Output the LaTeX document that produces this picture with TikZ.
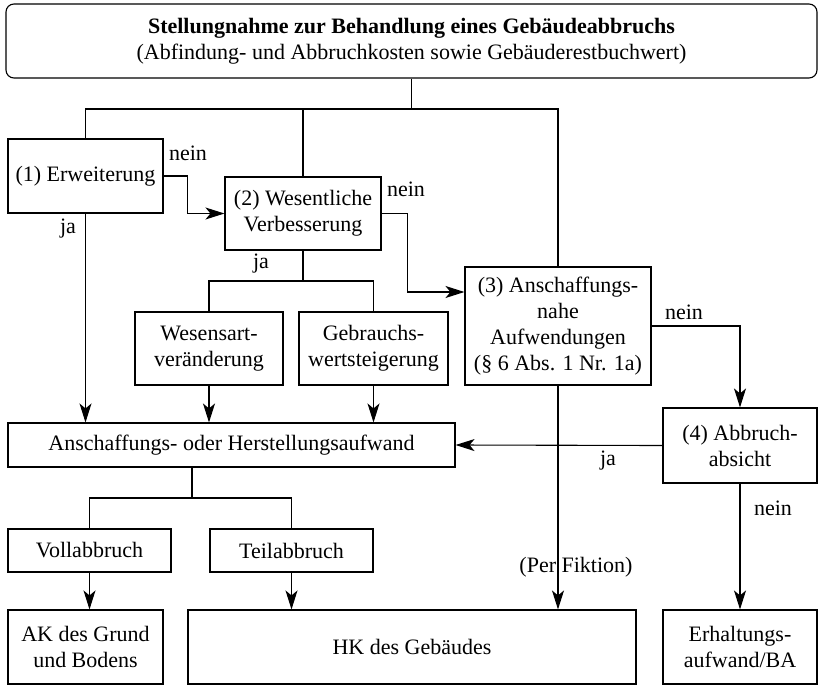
\documentclass[tikz,border=0pt]{standalone}
\usepackage{fontspec}
\setmainfont{Liberation Serif}
\usetikzlibrary{positioning}
\usetikzlibrary{arrows.meta}

\tikzset{
  box/.style={draw, align=center, inner sep=1pt, font=\fontsize{11}{13}\selectfont},
  sz/.style 2 args={minimum width=#1*0.5pt, minimum height=#2*0.5pt},
  lbl/.style={inner sep=0pt, font=\fontsize{11}{13}\selectfont},
  arr/.style={-{Stealth[length=9.5pt,width=6pt,inset=2.5pt]}}
}

\begin{document}
\begin{tikzpicture}[x=0.5pt, y=-0.5pt, line width=0.55pt]
        \useasboundingbox (0,0) rectangle (819,685);
        % Kopf
        \node[box, sz={811}{74}, rounded corners=4pt] (top) at (411.5,41)
            {\textbf{Stellungnahme zur Behandlung eines Gebäudeabbruchs}\\
             (Abfindung- und Abbruchkosten sowie Gebäuderestbuchwert)};
        \coordinate (split) at (411.5,109);

        % Pruefschritte
        \node[box, sz={155}{74}] (erw) at (85.5,176) {(1) Erweiterung};
        \node[box, sz={156}{73}] (wesv) at (303,213.5) {(2) Wesentliche\\Verbesserung};
        \node[box, sz={186}{118}] (anah) at (558,326)
            {(3) Anschaffungs-\\nahe\\Aufwendungen\\(§ 6 Abs. 1 Nr. 1a)};
        \node[box, sz={154}{75}] (abs) at (740,445.5) {(4) Abbruch-\\absicht};

        \node[box, sz={148}{73}] (wesa) at (209,348.5) {Wesensart-\\veränderung};
        \node[box, sz={149}{73}] (gebr) at (373.5,348.5) {Gebrauchs-\\wertsteigerung};
        \coordinate (split2) at (303,281);

        \node[box, sz={447}{44}] (ahk) at (231.5,445) {Anschaffungs- oder Herstellungsaufwand};
        \coordinate (split3) at (192,498);

        \node[box, sz={163}{43}] (voll) at (89.5,550.5) {Vollabbruch};
        \node[box, sz={163}{43}] (teil) at (291.5,550.5) {Teilabbruch};

        % Ergebnisse
        \node[box, sz={155}{74}] (akgb) at (85.5,647) {AK des Grund\\und Bodens};
        \node[box, sz={448}{74}] (hkgeb) at (412,647) {HK des Gebäudes};
        \node[box, sz={154}{74}] (erh) at (740,647) {Erhaltungs-\\aufwand/BA};

        % Verzweigung oben
        \draw (top.south) -- (split);
        \draw (erw.north) |- (split) -| (anah.north);
        \draw (wesv.north) -- (wesv.north |- split);

        % (1)
        \draw[arr] (erw.east) -- ++(24,0) |- (wesv.west);
        \draw[arr] (erw.south) -- (erw.south |- ahk.north);
        \node[lbl] (nein1) at (188,153) {nein};
        \node[lbl] (ja1) at (68,229) {ja};

        % (2)
        \draw[arr] (wesv.east) -- ++(26,0) |- ([yshift=17pt]anah.west);
        \draw (wesv.south) -- (split2);
        \draw (wesa.north) |- (split2) -| (gebr.north);
        \draw[arr] (wesa.south) -- (wesa.south |- ahk.north);
        \draw[arr] (gebr.south) -- (gebr.south |- ahk.north);
        \node[lbl] (nein2) at (406,189) {nein};
        \node[lbl] (ja2) at (261,264) {ja};

        % (3)
        \draw[arr] (anah.east) -| (abs.north);
        \draw[arr] (anah.south) -- (anah.south |- hkgeb.north);
        \node[lbl] (nein3) at (684,312) {nein};
        \node[lbl] (fikt) at (576,567) {(Per Fiktion)};

        % (4)
        \draw[arr] (abs.west) -- (ahk.east);
        \draw[arr] (abs.south) -- (erh.north);
        \node[lbl] (ja4) at (608,461) {ja};
        \node[lbl] (nein4) at (773,508) {nein};

        % Abbruch
        \draw (split3 |- ahk.south) -- (split3);
        \draw (voll.north) |- (split3) -| (teil.north);
        \draw[arr] (voll.south) -- (voll.south |- akgb.north);
        \draw[arr] (teil.south) -- (teil.south |- hkgeb.north);
    \end{tikzpicture}
\end{document}
